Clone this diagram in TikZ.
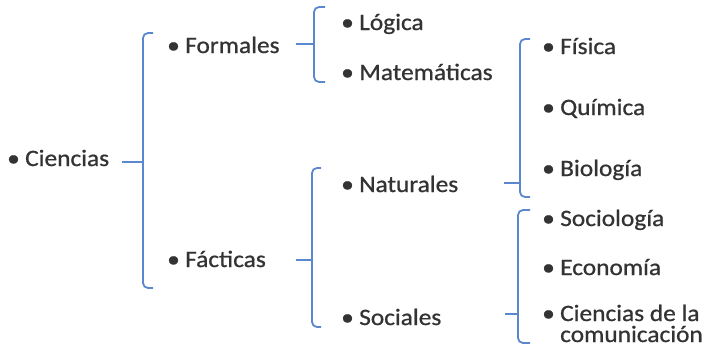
\documentclass[tikz,border=0pt]{standalone}
\usepackage{fontspec}
\setmainfont{Carlito}[FakeStretch=1.08,FakeBold=0.8]
\definecolor{txt}{HTML}{333333}
\definecolor{brk}{HTML}{5B87CF}
\newcommand{\bul}{\makebox[18pt][l]{•}}
\begin{document}
\begin{tikzpicture}[x=1pt,y=-1pt,
  item/.style={anchor=base west,inner sep=0pt,text=txt,font=\fontsize{23.5}{21}\selectfont},
  bracketline/.style={draw=brk,line width=1.8pt,rounded corners=5pt},
  stubline/.style={draw=brk,line width=1.8pt}]
\useasboundingbox (0,0) rectangle (707,349);
% nodes
\node[item] (cien) at (7,166) {\bul Ciencias};
\node[item] (form) at (167,53) {\bul Formales};
\node[item] (fact) at (167,267) {\bul Fácticas};
\node[item] (logi) at (341,30) {\bul Lógica};
\node[item] (mate) at (341,80) {\bul Matemáticas};
\node[item] (natu) at (341,192) {\bul Naturales};
\node[item] (soci) at (341,325) {\bul Sociales};
\node[item] (fisi) at (542,54) {\bul Física};
\node[item] (quim) at (542,115) {\bul Química};
\node[item] (biol) at (542,176) {\bul Biología};
\node[item] (socl) at (542,226) {\bul Sociología};
\node[item] (econ) at (542,275) {\bul Economía};
\node[item,align=left] (comu) at (542,342) {\bul Ciencias de la\\\hspace*{18pt}comunicación};
% bracket coordinates
\coordinate (j1) at (143,162);
\coordinate (j2) at (314,44);
\coordinate (j3) at (312,260);
\coordinate (j4) at (520,183);
\coordinate (j5) at (518,314);
% brackets
\draw[bracketline] (153,33) -- (143,33) -- (143,288) -- (153,288);
\draw[stubline] ([xshift=13pt]cien.east |- j1) -- (j1);
\draw[bracketline] (325,7) -- (314,7) -- (314,82) -- (325,82);
\draw[stubline] ([xshift=16pt]form.east |- j2) -- (j2);
\draw[bracketline] (321,168) -- (312,168) -- (312,327) -- (321,327);
\draw[stubline] ([xshift=30pt]fact.east |- j3) -- (j3);
\draw[bracketline] (530,39) -- (520,39) -- (520,197) -- (530,197);
\draw[stubline] ([xshift=46pt]natu.east |- j4) -- (j4);
\draw[bracketline] (530,210) -- (518,210) -- (518,343) -- (530,343);
\draw[stubline] ([xshift=63pt]soci.east |- j5) -- (j5);
\end{tikzpicture}
\end{document}
